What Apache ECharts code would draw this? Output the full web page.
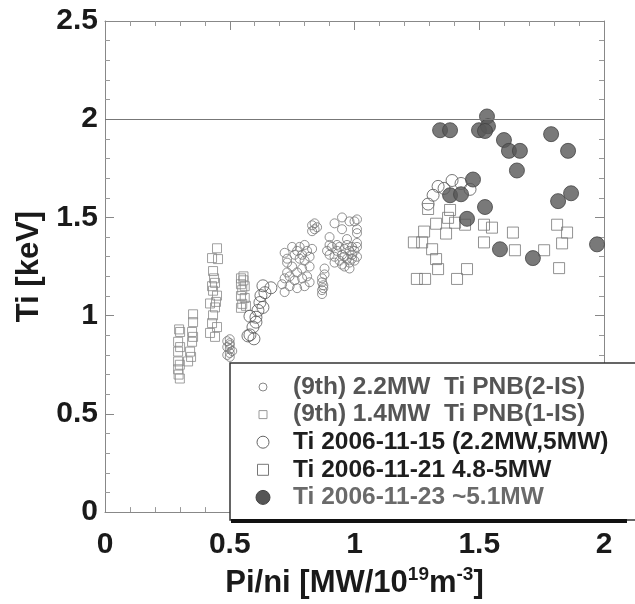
<!DOCTYPE html>
<html>
<head>
<meta charset="utf-8">
<script src="https://cdn.jsdelivr.net/npm/echarts@6/dist/echarts.min.js"></script>
<style>html,body{margin:0;padding:0;background:#fff}#c{width:635px;height:604px}</style>
</head>
<body>
<div id="c"></div>
<script>
// ---- data ----
const xTicks = [0, 0.5, 1, 1.5, 2];
const yTicks = [0, 0.5, 1, 1.5, 2, 2.5];
const legendLabels = [
  '(9th) 2.2MW  Ti PNB(2-IS)',
  '(9th) 1.4MW  Ti PNB(1-IS)',
  'Ti 2006-11-15 (2.2MW,5MW)',
  'Ti 2006-11-21 4.8-5MW',
  'Ti 2006-11-23 ~5.1MW'
];
const ninth22MW = [
  [0.49,0.87],[0.50,0.86],[0.50,0.85],[0.49,0.84],[0.50,0.83],[0.51,0.82],[0.50,0.81],[0.49,0.80],[0.50,0.79],[0.50,0.88],
  [0.72,1.32],[0.73,1.27],[0.73,1.22],[0.72,1.19],[0.72,1.12],[0.74,1.15],[0.77,1.14],[0.79,1.19],[0.79,1.24],[0.78,1.29],
  [0.77,1.33],[0.75,1.35],[0.76,1.31],[0.78,1.35],[0.80,1.36],[0.81,1.33],[0.82,1.30],[0.80,1.28],[0.83,1.34],[0.82,1.25],
  [0.81,1.20],[0.80,1.15],[0.82,1.17],[0.75,1.25],[0.74,1.20],[0.76,1.18],[0.71,1.16],[0.73,1.29],[0.77,1.22],[0.79,1.31],
  [0.83,1.46],[0.84,1.44],[0.83,1.43],[0.84,1.47],[0.85,1.45],
  [0.92,1.47],[0.95,1.50],[0.98,1.48],[1.01,1.49],[0.95,1.44],[1.01,1.44],[0.90,1.40],[0.97,1.39],[1.01,1.37],
  [0.89,1.33],[0.90,1.31],[0.91,1.35],[0.92,1.30],[0.93,1.33],[0.94,1.28],[0.95,1.31],[0.96,1.34],[0.97,1.29],[0.98,1.27],
  [0.99,1.31],[1.00,1.28],[0.95,1.26],[0.93,1.36],[0.97,1.36],[0.99,1.35],[0.92,1.27],[0.96,1.30],[0.98,1.33],[1.00,1.33],
  [0.94,1.35],[0.90,1.36],[1.01,1.30],[0.96,1.25],[0.98,1.24],
  [0.87,1.19],[0.87,1.17],[0.875,1.14],[0.87,1.13],[0.88,1.21],[0.88,1.24],[0.875,1.155],[0.87,1.11],
  [1.00,1.48],[1.01,1.42],[1.01,1.35],[0.99,1.29]
];
const ninth14MW = [
  [0.353,1.007],[0.353,0.967],[0.349,0.917],[0.349,0.867],[0.341,0.817],[0.353,0.892],[0.333,0.767],[0.345,0.79],
  [0.301,0.917],[0.293,0.867],[0.293,0.817],[0.293,0.767],[0.293,0.727],[0.301,0.84],[0.297,0.93],[0.30,0.68],[0.295,0.70],[0.30,0.75],
  [0.449,1.343],[0.429,1.293],[0.453,1.288],[0.433,1.227],[0.441,1.167],[0.433,1.127],[0.449,1.102],[0.421,1.062],
  [0.441,1.042],[0.433,1.002],[0.429,0.962],[0.449,0.942],[0.421,0.912],[0.441,0.892],[0.429,1.15],[0.437,1.19],[0.445,1.07],
  [0.545,1.19],[0.555,1.18],[0.545,1.16],[0.56,1.15],[0.55,1.13],[0.545,1.10],[0.56,1.09],[0.55,1.06],[0.545,1.04],[0.565,1.05],[0.555,1.20]
];
const ti061115 = [
  [0.581,0.902],[0.593,0.942],[0.581,0.997],[0.605,0.992],[0.613,1.027],[0.621,1.067],[0.633,1.042],[0.625,1.102],
  [0.641,1.117],[0.665,1.142],[0.633,1.152],[0.605,0.967],[0.573,0.897],[0.597,0.882],
  [1.295,1.568],[1.315,1.613],[1.335,1.658],[1.359,1.648],[1.391,1.688],[1.427,1.673],[1.463,1.643]
];
const ti061121 = [
  [1.295,1.543],[1.383,1.538],[1.375,1.498],[1.403,1.473],[1.443,1.463],[1.327,1.468],[1.279,1.428],[1.367,1.418],
  [1.238,1.373],[1.271,1.373],[1.311,1.338],[1.327,1.288],[1.335,1.237],[1.25,1.187],[1.283,1.187],[1.411,1.187],
  [1.451,1.237],[1.519,1.463],[1.551,1.448],[1.519,1.373],[1.635,1.423],[1.643,1.333],[1.760,1.333],[1.812,1.463],
  [1.852,1.423],[1.832,1.368],[1.82,1.242]
];
const ti061123 = [
  [1.343,1.944],[1.383,1.944],[1.499,1.944],[1.531,2.014],[1.535,1.964],[1.523,1.94],[1.599,1.894],[1.619,1.839],
  [1.475,1.693],[1.383,1.613],[1.427,1.618],[1.523,1.553],[1.451,1.493],[1.583,1.338],[1.663,1.839],[1.651,1.739],
  [1.788,1.924],[1.856,1.839],[1.868,1.623],[1.816,1.583],[1.972,1.363],[1.715,1.293]
];

// ---- chart ----
const chart = echarts.init(document.getElementById('c'), null, {renderer: 'canvas'});
const FONT = 'Liberation Sans, Arial, sans-serif';
const axisCommon = {
  type: 'value',
  axisLine: {show: true, onZero: false, lineStyle: {color: '#888', width: 1}},
  axisTick: {show: true, inside: true, length: 9, lineStyle: {color: '#888', width: 1}},
  minorTick: {show: true, splitNumber: 5, length: 5, lineStyle: {color: '#999', width: 1}},
  splitLine: {show: false},
  minorSplitLine: {show: false}
};
const legendStyles = [
  {symbol: 'circle', size: 8, fill: 'none', stroke: '#888', color: '#555'},
  {symbol: 'rect', size: 8, fill: 'none', stroke: '#999', color: '#555'},
  {symbol: 'circle', size: 12, fill: 'none', stroke: '#666', color: '#1e1e1e'},
  {symbol: 'rect', size: 11, fill: 'none', stroke: '#777', color: '#1e1e1e'},
  {symbol: 'circle', size: 14, fill: '#555', stroke: '#444', color: '#6a6a6a'}
];
const legendGraphics = [
  {type: 'rect', shape: {x: 230, y: 363, width: 420, height: 157}, style: {fill: '#fff', stroke: '#333', lineWidth: 1.5}, z: 100},
  {type: 'line', shape: {x1: 231, y1: 521, x2: 627, y2: 521}, style: {stroke: '#111', lineWidth: 4}, z: 101}
];
legendLabels.forEach((t, i) => {
  const cy = 387 + i * 27.6;
  const s = legendStyles[i];
  if (s.symbol === 'circle') {
    legendGraphics.push({type: 'circle', shape: {cx: 263, cy: cy, r: s.size / 2}, style: {fill: s.fill, stroke: s.stroke, lineWidth: 1}, z: 102});
  } else {
    legendGraphics.push({type: 'rect', shape: {x: 263 - s.size / 2, y: cy - s.size / 2, width: s.size, height: s.size}, style: {fill: s.fill, stroke: s.stroke, lineWidth: 1}, z: 102});
  }
  legendGraphics.push({type: 'text', x: 293, y: cy, style: {text: t, font: 'bold 24.5px ' + FONT, fill: s.color, textVerticalAlign: 'middle', verticalAlign: 'middle'}, z: 102});
});

const open = (c) => ({color: 'rgba(0,0,0,0)', borderColor: c, borderWidth: 1});
chart.setOption({
  animation: false,
  backgroundColor: '#fff',
  grid: {left: 105, right: 31, top: 21, bottom: 84, containLabel: false},
  xAxis: [
    Object.assign({}, axisCommon, {
      min: 0, max: 2, interval: 0.5, position: 'bottom',
      axisLabel: {show: true, margin: 18, color: '#1a1a1a', fontSize: 30, fontWeight: 'bold', fontFamily: FONT,
        formatter: v => xTicks.includes(v) ? String(v) : ''},
      name: '{a|Pi/ni [MW/10}{s|19}{a|m}{s|-3}{a|]}',
      nameLocation: 'middle', nameGap: 51,
      nameTextStyle: {rich: {
        a: {fontSize: 31, fontWeight: 'bold', fontFamily: FONT, color: '#1a1a1a', lineHeight: 34, verticalAlign: 'bottom'},
        s: {fontSize: 19, fontWeight: 'bold', fontFamily: FONT, color: '#1a1a1a', lineHeight: 34, verticalAlign: 'top', padding: [0, 0, 14, 0]}
      }}
    }),
    Object.assign({}, axisCommon, {min: 0, max: 2, interval: 0.5, position: 'top', axisLabel: {show: false}})
  ],
  yAxis: [
    Object.assign({}, axisCommon, {
      min: 0, max: 2.5, interval: 0.5, position: 'left',
      axisLabel: {show: true, margin: 7, color: '#1a1a1a', fontSize: 30, fontWeight: 'bold', fontFamily: FONT,
        formatter: v => yTicks.includes(v) ? String(v) : ''},
      name: 'Ti [keV]', nameLocation: 'middle', nameGap: 58, nameRotate: 90,
      nameTextStyle: {fontSize: 31, fontWeight: 'bold', fontFamily: FONT, color: '#1a1a1a'}
    }),
    Object.assign({}, axisCommon, {min: 0, max: 2.5, interval: 0.5, position: 'right', axisLabel: {show: false}})
  ],
  graphic: legendGraphics,
  series: [
    {name: legendLabels[0], type: 'scatter', data: ninth22MW, symbol: 'circle', symbolSize: 9, itemStyle: open('#777'),
      markLine: {silent: true, symbol: 'none', label: {show: false}, lineStyle: {color: '#777', width: 1, type: 'solid'}, data: [{yAxis: 2}]}},
    {name: legendLabels[1], type: 'scatter', data: ninth14MW, symbol: 'rect', symbolSize: 9, itemStyle: open('#888')},
    {name: legendLabels[2], type: 'scatter', data: ti061115, symbol: 'circle', symbolSize: 12, itemStyle: open('#555')},
    {name: legendLabels[3], type: 'scatter', data: ti061121, symbol: 'rect', symbolSize: 11, itemStyle: open('#777')},
    {name: legendLabels[4], type: 'scatter', data: ti061123, symbol: 'circle', symbolSize: 15, itemStyle: {color: '#575757', borderColor: '#444', borderWidth: 1}}
  ]
});
</script>
</body>
</html>
